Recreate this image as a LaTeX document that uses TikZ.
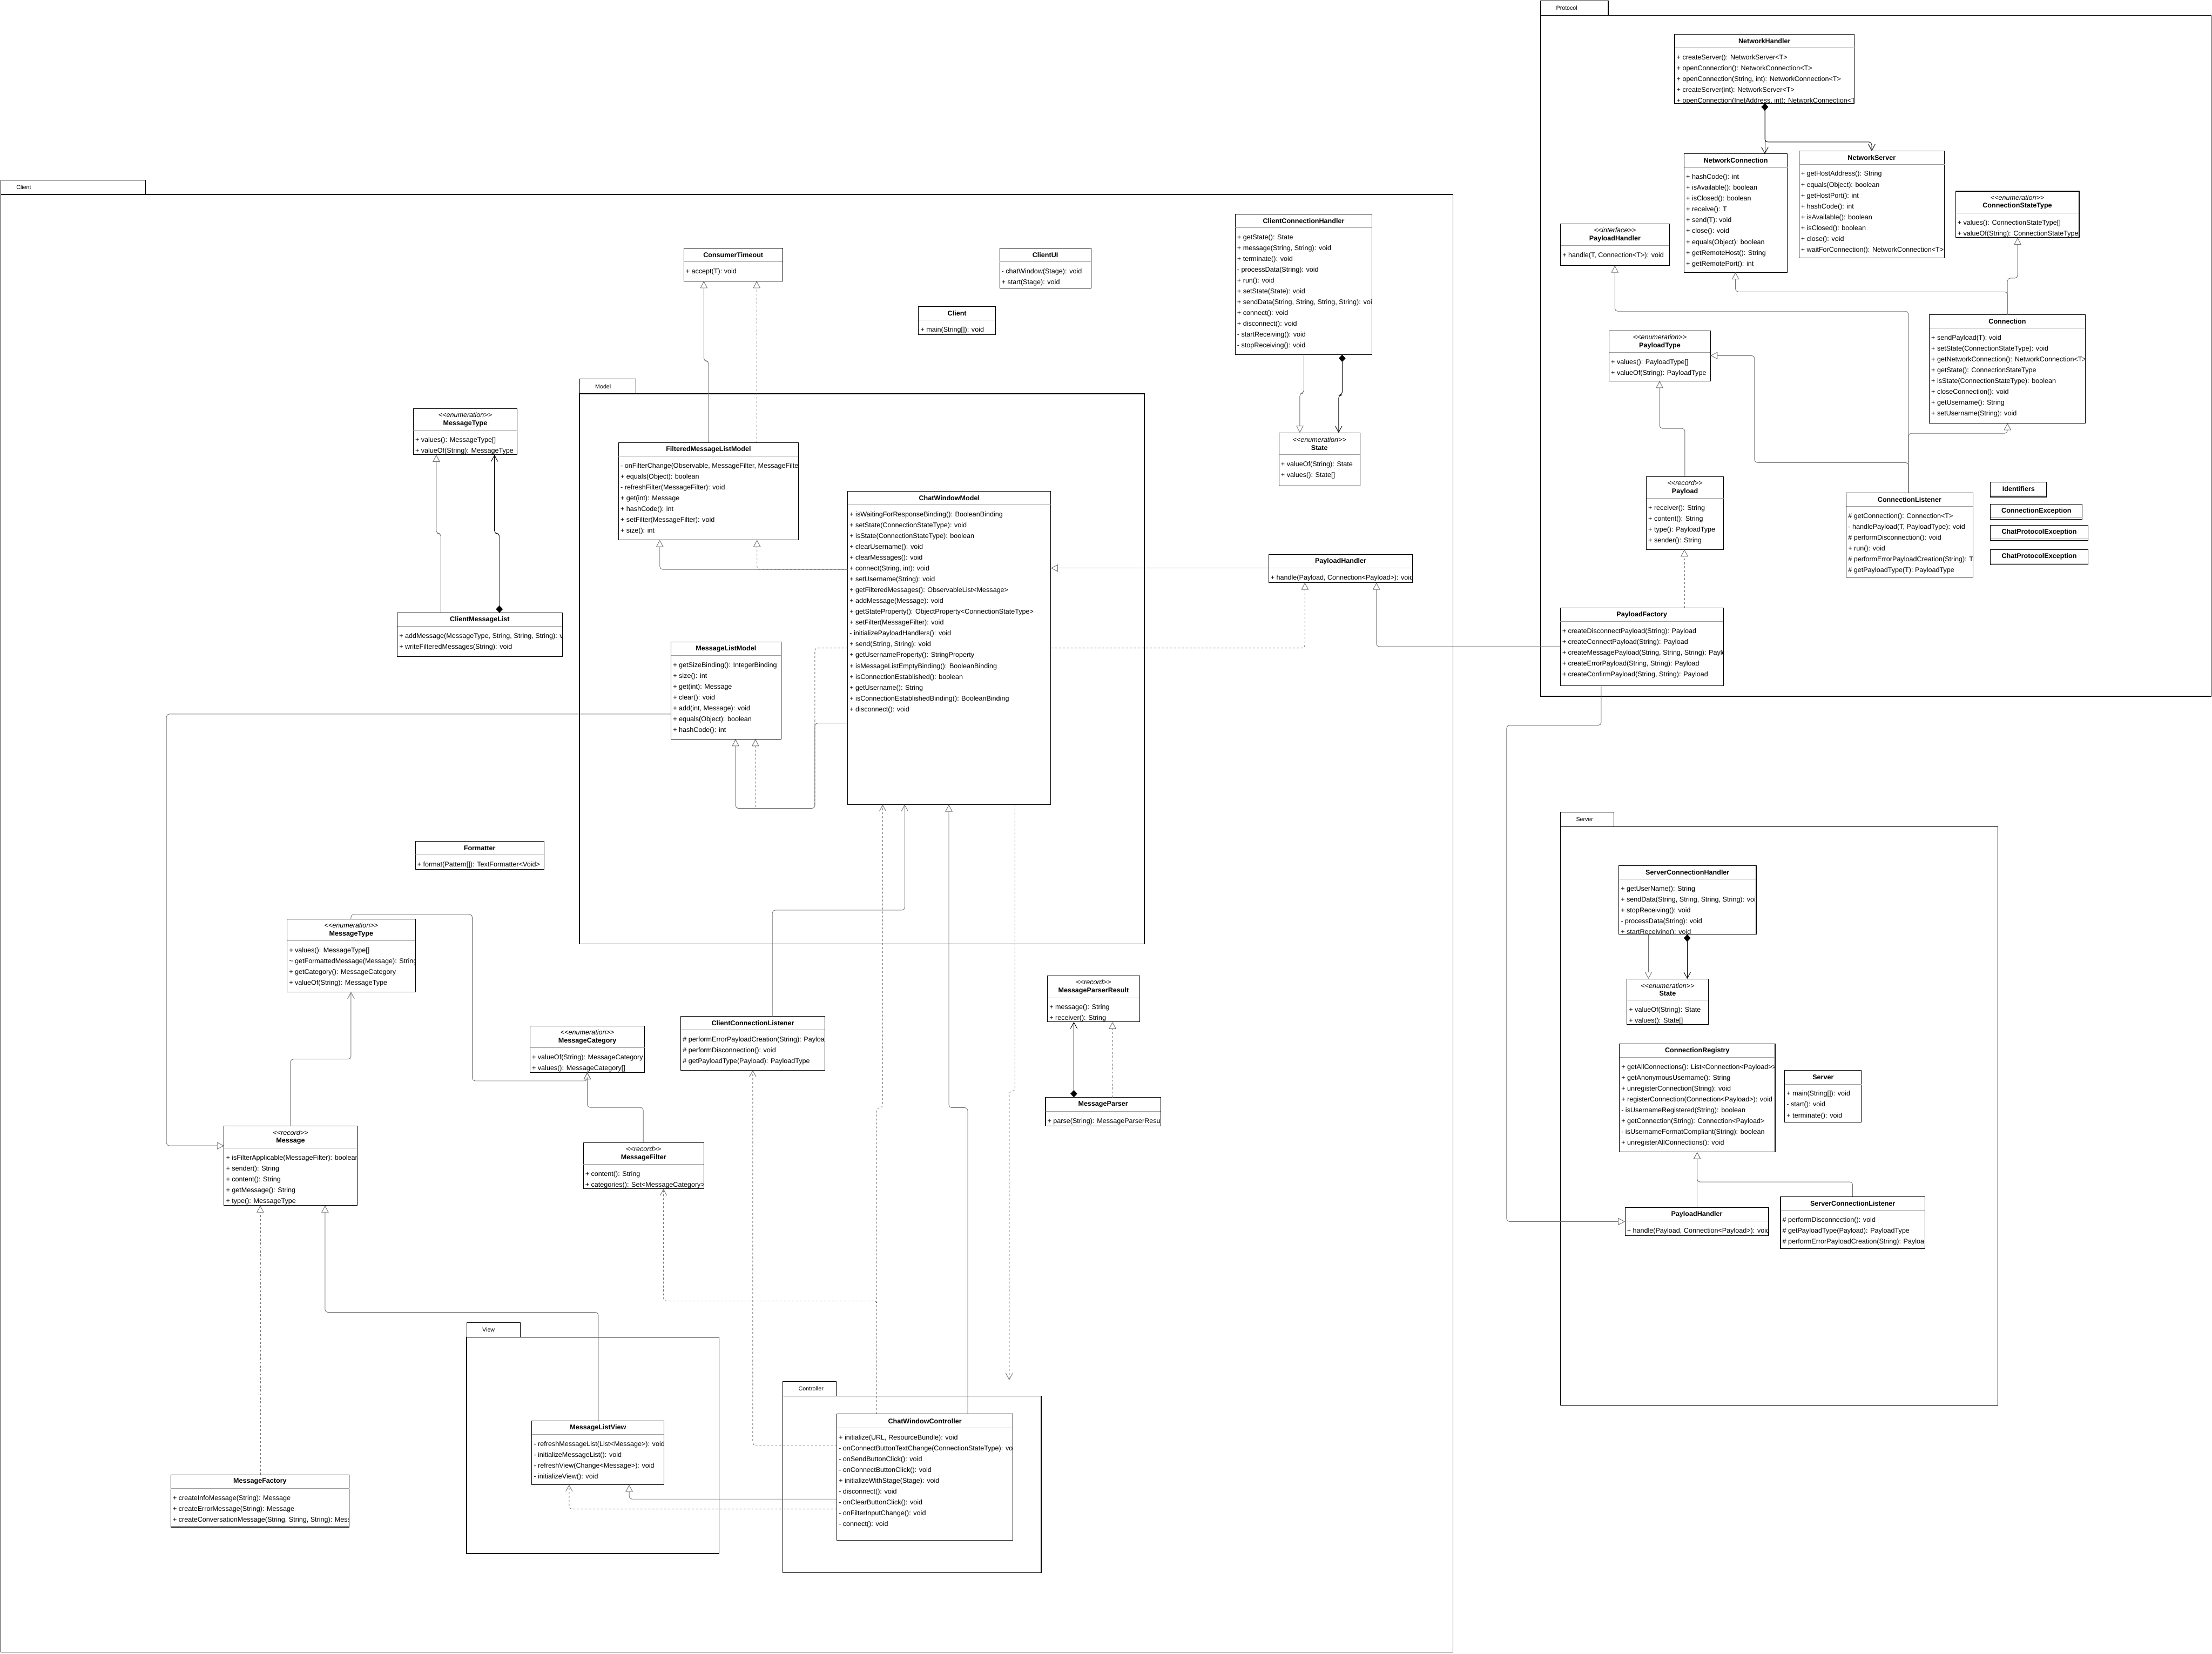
\documentclass[tikz,border=0pt]{standalone}
\usepackage{fontspec}
\setmainfont{Liberation Sans}
\usepackage{tikz}
\usetikzlibrary{arrows.meta,calc}
\definecolor{ink}{HTML}{000000}
\definecolor{wire}{HTML}{707070}
\definecolor{rule}{HTML}{9C9C9C}
\tikzset{
  cls/.style={draw=ink, fill=white, line width=0.6pt, inner sep=0pt, outer sep=0pt},
  clssep/.style={draw=rule, line width=0.5pt},
  clshead/.style={inner sep=0pt, align=center, font=\fontsize{6.85}{8.1}\selectfont},
  clsrows/.style={inner xsep=1.8pt, inner ysep=0pt, align=left, font=\fontsize{6.85}{10.92}\selectfont},
  pkgtab/.style={draw=ink, line width=0.6pt, inner sep=0pt, outer sep=0pt},
  pkgbody/.style={draw=ink, line width=0.8pt, inner sep=0pt, outer sep=0pt},
  pkglabel/.style={inner sep=0pt, font=\fontsize{5.8}{7}\selectfont},
}
% class box: name, x, y (top left), width, height, header height, header, rows
\newcommand{\umlclass}[8]{%
  \node[cls, anchor=north west, minimum width=#4*0.05cm, minimum height=#5*0.05cm] (#1) at (#2,#3) {};
  \draw[clssep] (#2,#3+#6) -- (#2+#4,#3+#6);
  \node[clshead] at (#2+#4/2,#3+#6/2) {#7};
  \begin{scope}
    \clip (#2,#3) rectangle (#2+#4,#3+#5);
    \node[clsrows, anchor=north west] at (#2,#3+#6) {\rule{0pt}{11.6pt}#8};
  \end{scope}
}
% package: name, x, y (top left of tab), tab width, width, body height, label
\newcommand{\umlpackage}[7]{%
  \node[pkgtab, anchor=north west, minimum width=#4*0.05cm, minimum height=10.4*0.05cm] (#1Tab) at (#2,#3) {};
  \node[pkglabel, anchor=west] at ($(#1Tab.west)+(11,0)$) {#7};
  \node[pkgbody, anchor=north west, minimum width=#5*0.05cm, minimum height=#6*0.05cm] (#1) at (#2,#3+10.4) {};
}
\newcommand{\stereo}[2]{\textit{<{}<#1>{}>}\\\textbf{#2}}

\begin{document}
\begin{tikzpicture}[x=0.05cm, y=-0.05cm,
  gen/.style={draw=wire, line width=0.5pt, rounded corners=0.1cm, -{Triangle[open, length=0.25cm, width=0.26cm]}},
  real/.style={gen, dash pattern=on 2pt off 2pt},
  assoc/.style={draw=wire, line width=0.5pt, rounded corners=0.1cm, -{Straight Barb[length=0.22cm, width=0.24cm]}},
  dep/.style={assoc, dash pattern=on 2pt off 2pt},
  comp/.style={draw=ink, line width=0.5pt, rounded corners=0.1cm, {Diamond[length=0.26cm, width=0.24cm]}-{Straight Barb[length=0.22cm, width=0.24cm]}}]
\useasboundingbox (0,0) rectangle (1568,1172);

% packages
\umlpackage{pkgClient}{0.5}{127.5}{102.5}{1029.5}{1033}{Client}
\umlpackage{pkgModel}{410.8}{268.7}{40}{400.4}{389.9}{Model}
\umlpackage{pkgView}{330.8}{937.2}{37.9}{179}{153.4}{View}
\umlpackage{pkgController}{554.9}{979}{37.9}{183.1}{125.2}{Controller}
\umlpackage{pkgServer}{1106.1}{575.4}{37.8}{310}{410.1}{Server}
\umlpackage{pkgProtocol}{1092}{0.5}{48}{475.5}{482.5}{Protocol}

% protocol
\umlclass{netHandler}{1187.1}{24.3}{127.3}{48.9}{9.6}{\textbf{NetworkHandler}}{+ createServer(): NetworkServer<T>\\+ openConnection(): NetworkConnection<T>\\+ openConnection(String, int): NetworkConnection<T>\\+ createServer(int): NetworkServer<T>\\+ openConnection(InetAddress, int): NetworkConnection<T}
\umlclass{netConnection}{1193.8}{109}{73.2}{84}{9.7}{\textbf{NetworkConnection}}{+ hashCode(): int\\+ isAvailable(): boolean\\+ isClosed(): boolean\\+ receive(): T\\+ send(T): void\\+ close(): void\\+ equals(Object): boolean\\+ getRemoteHost(): String\\+ getRemotePort(): int}
\umlclass{netServer}{1275.2}{107}{103.1}{75.7}{9.5}{\textbf{NetworkServer}}{+ getHostAddress(): String\\+ equals(Object): boolean\\+ getHostPort(): int\\+ hashCode(): int\\+ isAvailable(): boolean\\+ isClosed(): boolean\\+ close(): void\\+ waitForConnection(): NetworkConnection<T>}
\umlclass{connStateType}{1386.2}{135.5}{87.6}{32.9}{15.5}{\stereo{enumeration}{ConnectionStateType}}{+ values(): ConnectionStateType[]\\+ valueOf(String): ConnectionStateType}
\umlclass{payloadHandlerIf}{1106.2}{158.6}{77.1}{29.6}{15.5}{\stereo{interface}{PayloadHandler}}{+ handle(T, Connection<T>): void}
\umlclass{payloadType}{1140.6}{234.4}{71.9}{35.6}{15.5}{\stereo{enumeration}{PayloadType}}{+ values(): PayloadType[]\\+ valueOf(String): PayloadType}
\umlclass{connection}{1367.6}{223.1}{110.6}{76.8}{9.6}{\textbf{Connection}}{+ sendPayload(T): void\\+ setState(ConnectionStateType): void\\+ getNetworkConnection(): NetworkConnection<T>\\+ getState(): ConnectionStateType\\+ isState(ConnectionStateType): boolean\\+ closeConnection(): void\\+ getUsername(): String\\+ setUsername(String): void}
\umlclass{payload}{1167}{337.8}{54.8}{51.6}{15.5}{\stereo{record}{Payload}}{+ receiver(): String\\+ content(): String\\+ type(): PayloadType\\+ sender(): String}
\umlclass{connListener}{1308.7}{349.2}{89.8}{60}{9.8}{\textbf{ConnectionListener}}{\# getConnection(): Connection<T>\\- handlePayload(T, PayloadType): void\\\# performDisconnection(): void\\+ run(): void\\\# performErrorPayloadCreation(String): T\\\# getPayloadType(T): PayloadType}
\umlclass{identifiers}{1411}{341.6}{39.8}{10.6}{9.4}{\textbf{Identifiers}}{}
\umlclass{connException}{1411}{357.4}{65}{10.6}{9.4}{\textbf{ConnectionException}}{}
\umlclass{protoExceptionA}{1411}{372.3}{69}{10.6}{9.4}{\textbf{ChatProtocolException}}{}
\umlclass{protoExceptionB}{1411}{389.6}{69}{10.6}{9.4}{\textbf{ChatProtocolException}}{}
\umlclass{payloadFactory}{1106}{430.8}{115.7}{55.1}{9.7}{\textbf{PayloadFactory}}{+ createDisconnectPayload(String): Payload\\+ createConnectPayload(String): Payload\\+ createMessagePayload(String, String, String): Paylo\\+ createErrorPayload(String, String): Payload\\+ createConfirmPayload(String, String): Payload}

% client
\umlclass{consumerTimeout}{484.7}{175.8}{70.1}{23.4}{9.8}{\textbf{ConsumerTimeout}}{+ accept(T): void}
\umlclass{clientUI}{708.6}{175.8}{64.7}{28.3}{9.8}{\textbf{ClientUI}}{- chatWindow(Stage): void\\+ start(Stage): void}
\umlclass{client}{651.1}{217.1}{54.6}{20}{9.7}{\textbf{Client}}{+ main(String[]): void}
\umlclass{clientConnHandler}{875.6}{151.8}{97}{99.5}{9.6}{\textbf{ClientConnectionHandler}}{+ getState(): State\\+ message(String, String): void\\+ terminate(): void\\- processData(String): void\\+ run(): void\\+ setState(State): void\\+ sendData(String, String, String, String): void\\+ connect(): void\\+ disconnect(): void\\- startReceiving(): void\\- stopReceiving(): void}
\umlclass{stateClient}{906.6}{306.7}{57.4}{37.8}{15.4}{\stereo{enumeration}{State}}{+ valueOf(String): State\\+ values(): State[]}
\umlclass{msgTypeTop}{293}{289.6}{73.6}{32.7}{15.4}{\stereo{enumeration}{MessageType}}{+ values(): MessageType[]\\+ valueOf(String): MessageType}
\umlclass{clientMsgList}{281.6}{434.3}{117}{30.9}{9.7}{\textbf{ClientMessageList}}{+ addMessage(MessageType, String, String, String): v\\+ writeFilteredMessages(String): void}
\umlclass{clientPayloadHandler}{899.3}{392.9}{102.1}{20}{9.7}{\textbf{PayloadHandler}}{+ handle(Payload, Connection<Payload>): void}
\umlclass{formatter}{294.4}{596.2}{91.2}{19.8}{9.7}{\textbf{Formatter}}{+ format(Pattern[]): TextFormatter<Void>}
\umlclass{msgType}{203.5}{651.3}{90.9}{51.7}{15.5}{\stereo{enumeration}{MessageType}}{+ values(): MessageType[]\\\textasciitilde{} getFormattedMessage(Message): String\\+ getCategory(): MessageCategory\\+ valueOf(String): MessageType}
\umlclass{msgCategory}{375.7}{727.1}{81.3}{32.8}{15.4}{\stereo{enumeration}{MessageCategory}}{+ valueOf(String): MessageCategory\\+ values(): MessageCategory[]}
\umlclass{clientConnListener}{482.6}{720.2}{102.1}{38.2}{9.6}{\textbf{ClientConnectionListener}}{\# performErrorPayloadCreation(String): Payloa\\\# performDisconnection(): void\\\# getPayloadType(Payload): PayloadType}
\umlclass{msgParserResult}{742.5}{691.5}{65.3}{32.7}{15.6}{\stereo{record}{MessageParserResult}}{+ message(): String\\+ receiver(): String}
\umlclass{msgParser}{741.1}{777.7}{81.7}{20.1}{10}{\textbf{MessageParser}}{+ parse(String): MessageParserResul}
\umlclass{message}{158.8}{798}{94.3}{56.3}{15.8}{\stereo{record}{Message}}{+ isFilterApplicable(MessageFilter): boolean\\+ sender(): String\\+ content(): String\\+ getMessage(): String\\+ type(): MessageType}
\umlclass{msgFilter}{413.5}{809.9}{85.4}{32.6}{15.4}{\stereo{record}{MessageFilter}}{+ content(): String\\+ categories(): Set<MessageCategory>}
\umlclass{msgFactory}{121.1}{1045.1}{126.4}{37.1}{9.8}{\textbf{MessageFactory}}{+ createInfoMessage(String): Message\\+ createErrorMessage(String): Message\\+ createConversationMessage(String, String, String): Mess}

% model
\umlclass{filteredModel}{438.5}{313.6}{127.4}{69}{9.7}{\textbf{FilteredMessageListModel}}{- onFilterChange(Observable, MessageFilter, MessageFilte\\+ equals(Object): boolean\\- refreshFilter(MessageFilter): void\\+ get(int): Message\\+ hashCode(): int\\+ setFilter(MessageFilter): void\\+ size(): int}
\umlclass{msgListModel}{475.7}{455}{77.9}{68.8}{9.7}{\textbf{MessageListModel}}{+ getSizeBinding(): IntegerBinding\\+ size(): int\\+ get(int): Message\\+ clear(): void\\+ add(int, Message): void\\+ equals(Object): boolean\\+ hashCode(): int}
\umlclass{chatModel}{600.9}{348.1}{144}{222.1}{9.7}{\textbf{ChatWindowModel}}{+ isWaitingForResponseBinding(): BooleanBinding\\+ setState(ConnectionStateType): void\\+ isState(ConnectionStateType): boolean\\+ clearUsername(): void\\+ clearMessages(): void\\+ connect(String, int): void\\+ setUsername(String): void\\+ getFilteredMessages(): ObservableList<Message>\\+ addMessage(Message): void\\+ getStateProperty(): ObjectProperty<ConnectionStateType>\\+ setFilter(MessageFilter): void\\- initializePayloadHandlers(): void\\+ send(String, String): void\\+ getUsernameProperty(): StringProperty\\+ isMessageListEmptyBinding(): BooleanBinding\\+ isConnectionEstablished(): boolean\\+ getUsername(): String\\+ isConnectionEstablishedBinding(): BooleanBinding\\+ disconnect(): void}

% view and controller
\umlclass{msgListView}{377}{1006.9}{93.8}{45.3}{9.7}{\textbf{MessageListView}}{- refreshMessageList(List<Message>): void\\- initializeMessageList(): void\\- refreshView(Change<Message>): void\\- initializeView(): void}
\umlclass{chatController}{593.2}{1002.1}{124.8}{89.6}{9.9}{\textbf{ChatWindowController}}{+ initialize(URL, ResourceBundle): void\\- onConnectButtonTextChange(ConnectionStateType): voi\\- onSendButtonClick(): void\\- onConnectButtonClick(): void\\+ initializeWithStage(Stage): void\\- disconnect(): void\\- onClearButtonClick(): void\\- onFilterInputChange(): void\\- connect(): void}

% server
\umlclass{serverConnHandler}{1147.5}{613.4}{97.4}{48.8}{9.6}{\textbf{ServerConnectionHandler}}{+ getUserName(): String\\+ sendData(String, String, String, String): voi\\+ stopReceiving(): void\\- processData(String): void\\+ startReceiving(): void}
\umlclass{stateServer}{1153.3}{693.7}{57.6}{32.5}{15.2}{\stereo{enumeration}{State}}{+ valueOf(String): State\\+ values(): State[]}
\umlclass{connRegistry}{1147.9}{739.9}{110.4}{76.5}{9.4}{\textbf{ConnectionRegistry}}{+ getAllConnections(): List<Connection<Payload>{}>\\+ getAnonymousUsername(): String\\+ unregisterConnection(String): void\\+ registerConnection(Connection<Payload>): void\\- isUsernameRegistered(String): boolean\\+ getConnection(String): Connection<Payload>\\- isUsernameFormatCompliant(String): boolean\\+ unregisterAllConnections(): void}
\umlclass{server}{1265.1}{758.7}{54.4}{36.6}{9.7}{\textbf{Server}}{+ main(String[]): void\\- start(): void\\+ terminate(): void}
\umlclass{serverPayloadHandler}{1151.9}{855.7}{101.8}{19.9}{9.7}{\textbf{PayloadHandler}}{+ handle(Payload, Connection<Payload>): void}
\umlclass{serverConnListener}{1262.1}{848}{102.4}{37}{9.7}{\textbf{ServerConnectionListener}}{\# performDisconnection(): void\\\# getPayloadType(Payload): PayloadType\\\# performErrorPayloadCreation(String): Payloa}

% protocol connectors
\draw[comp] (netHandler.south -| 1251,0) -- (netConnection.north -| 1251,0);
\draw[comp] (netHandler.south -| 1251,0) |- (1326.8,100.6) -- (netServer.north -| 1326.8,0);
\draw[gen] (connection.north -| 1423,0) |- (1230.2,206.8) -- (netConnection.south -| 1230.2,0);
\draw[gen] (connection.north -| 1423,0) |- (1430.2,197.1) -- (connStateType.south -| 1430.2,0);
\draw[gen] (connListener.north -| 1352.8,0) |- (1144.7,220.6) -- (payloadHandlerIf.south -| 1144.7,0);
\draw[gen] (connListener.north -| 1352.8,0) |- (1243.7,327.8) |- (payloadType.east |- 0,252);
\draw[gen] (connListener.north -| 1352.8,0) |- (1423,307.1) -- (connection.south -| 1423,0);
\draw[gen] (payload.north -| 1194.3,0) |- (1176.4,303.6) -- (payloadType.south -| 1176.4,0);
\draw[real] (payloadFactory.north -| 1194,0) -- (payload.south -| 1194,0);
\draw[gen] (payloadFactory.west |- 0,458.3) -| (clientPayloadHandler.south -| 975.7,0);
\draw[gen] (payloadFactory.south -| 1135,0) |- (1068,514) |- (serverPayloadHandler.west |- 0,865.7);

% client connectors
\draw[gen] (clientPayloadHandler.west |- 0,402.6) -- (chatModel.east |- 0,402.6);
\draw[real] (chatModel.east |- 0,459.2) -| (clientPayloadHandler.south -| 925,0);
\draw[gen] (filteredModel.north -| 502.3,0) |- (498.9,255.8) -- (consumerTimeout.south -| 498.9,0);
\draw[real] (filteredModel.north -| 536.4,0) -- (consumerTimeout.south -| 536.4,0);
\draw[gen] (chatModel.west |- 0,403.5) -| (filteredModel.south -| 467.7,0);
\draw[real] (chatModel.west |- 0,403.5) -| (filteredModel.south -| 536.6,0);
\draw[gen] (chatModel.west |- 0,512.5) -| (577.6,572.9) -| (msgListModel.south -| 521.4,0);
\draw[real] (chatModel.west |- 0,459.2) -| (577.6,572.9) -| (msgListModel.south -| 535.5,0);
\draw[gen] (clientMsgList.north -| 312.5,0) |- (309.3,378.1) -- (msgTypeTop.south -| 309.3,0);
\draw[comp] (clientMsgList.north -| 354,0) |- (350.5,378.1) -- (msgTypeTop.south -| 350.5,0);
\draw[gen] (clientConnHandler.south -| 924.2,0) |- (921.4,278.7) -- (stateClient.north -| 921.4,0);
\draw[comp] (clientConnHandler.south -| 951.4,0) |- (948.9,280) -- (stateClient.north -| 948.9,0);
\draw[gen] (msgListModel.west |- 0,506) -| (118,812) -- (message.west |- 0,812);
\draw[assoc] (message.north -| 205.9,0) |- (248.8,750.6) -- (msgType.south -| 248.8,0);
\draw[gen] (msgType.north -| 248.8,0) |- (334.8,648) |- (416.3,766) -- (msgCategory.south -| 416.3,0);
\draw[gen] (msgFilter.north -| 456,0) |- (416.3,784.8) -- (msgCategory.south -| 416.3,0);
\draw[real] (msgFactory.north -| 184.5,0) -- (message.south -| 184.5,0);
\draw[gen] (msgListView.north -| 424.1,0) |- (230.4,930) -- (message.south -| 230.4,0);
\draw[comp] (msgParser.north -| 761.2,0) -- (msgParserResult.south -| 761.2,0);
\draw[real] (msgParser.north -| 788.6,0) -- (msgParserResult.south -| 788.6,0);
\draw[assoc] (clientConnListener.north -| 547.5,0) |- (641.3,645) -- (chatModel.south -| 641.3,0);

% controller connectors
\coordinate (ctrlTarget) at (715.4,978);
\draw[dep] (chatModel.south -| 719.4,0) |- (715.4,773.4) -- (ctrlTarget);
\draw[dep] (chatController.north -| 621.5,0) |- (470.3,922) -- (msgFilter.south -| 470.3,0);
\draw[dep] (chatController.north -| 621.5,0) |- (625.7,785) -- (chatModel.south -| 625.7,0);
\draw[gen] (chatController.north -| 686,0) |- (672.6,785) -- (chatModel.south -| 672.6,0);
\draw[dep] (chatController.west |- 0,1024.4) -| (clientConnListener.south -| 533.6,0);
\draw[gen] (chatController.west |- 0,1062.4) -| (msgListView.south -| 446,0);
\draw[dep] (chatController.west |- 0,1069.4) -| (msgListView.south -| 403.4,0);

% server connectors
\draw[gen] (serverConnHandler.south -| 1168.5,0) -- (stateServer.north -| 1168.5,0);
\draw[comp] (serverConnHandler.south -| 1196,0) -- (stateServer.north -| 1196,0);
\draw[gen] (serverPayloadHandler.north -| 1203,0) -- (connRegistry.south -| 1203,0);
\draw[gen] (serverConnListener.north -| 1313.3,0) |- (1203,837.6) -- (connRegistry.south -| 1203,0);
\end{tikzpicture}
\end{document}
